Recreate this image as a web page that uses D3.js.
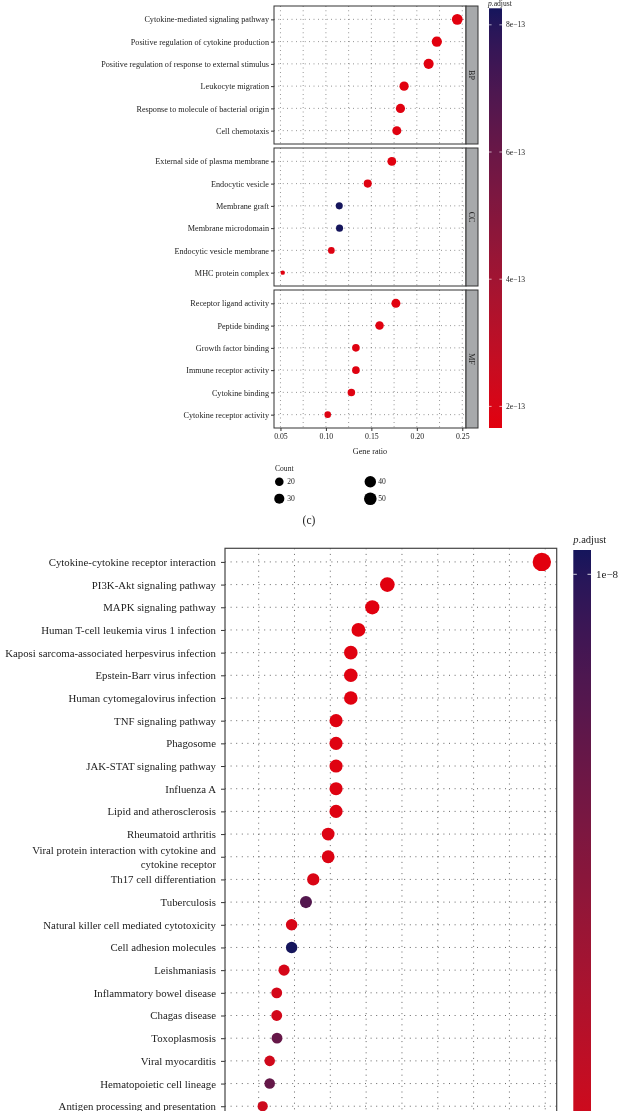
<!DOCTYPE html>
<html>
<head>
<meta charset="utf-8">
<script src="https://cdn.jsdelivr.net/npm/d3@7"></script>
<style>
  body { margin: 0; overflow: hidden; background: #fff; }
  svg { will-change: transform; }
  text { font-family: "Liberation Serif", "DejaVu Serif", serif; fill: #222; }
</style>
</head>
<body>
<div id="container"></div>
<script>
// ---------- data : (c) GO enrichment ----------
const bpTerms = ["Cytokine-mediated signaling pathway", "Positive regulation of cytokine production",
  "Positive regulation of response to external stimulus", "Leukocyte migration",
  "Response to molecule of bacterial origin", "Cell chemotaxis"];
const bpRatio = [0.2445, 0.222, 0.213, 0.186, 0.182, 0.178];
const bpCount = [55, 50, 48, 42, 41, 40];
const bpPadj = [1.66e-13, 1.67e-13, 1.68e-13, 1.7e-13, 1.72e-13, 1.74e-13];

const ccTerms = ["External side of plasma membrane", "Endocytic vesicle", "Membrane graft",
  "Membrane microdomain", "Endocytic vesicle membrane", "MHC protein complex"];
const ccRatio = [0.1725, 0.146, 0.1147, 0.115, 0.106, 0.0525];
const ccCount = [39, 33, 26, 26, 24, 12];
const ccPadj = [1.7e-13, 1.75e-13, 8.26e-13, 8.26e-13, 1.8e-13, 1.75e-13];

const mfTerms = ["Receptor ligand activity", "Peptide binding", "Growth factor binding",
  "Immune receptor activity", "Cytokine binding", "Cytokine receptor activity"];
const mfRatio = [0.177, 0.159, 0.133, 0.133, 0.128, 0.102];
const mfCount = [40, 36, 30, 30, 29, 23];
const mfPadj = [1.7e-13, 1.72e-13, 1.75e-13, 1.75e-13, 1.78e-13, 1.8e-13];

const goLegendCounts = [20, 30, 40, 50];

// ---------- data : (d) KEGG enrichment ----------
const keggTerms = ["Cytokine-cytokine receptor interaction", "PI3K-Akt signaling pathway",
  "MAPK signaling pathway", "Human T-cell leukemia virus 1 infection",
  "Kaposi sarcoma-associated herpesvirus infection", "Epstein-Barr virus infection",
  "Human cytomegalovirus infection", "TNF signaling pathway", "Phagosome",
  "JAK-STAT signaling pathway", "Influenza A", "Lipid and atherosclerosis",
  "Rheumatoid arthritis", "Viral protein interaction with cytokine and|cytokine receptor",
  "Th17 cell differentiation", "Tuberculosis", "Natural killer cell mediated cytotoxicity",
  "Cell adhesion molecules", "Leishmaniasis", "Inflammatory bowel disease", "Chagas disease",
  "Toxoplasmosis", "Viral myocarditis", "Hematopoietic cell lineage",
  "Antigen processing and presentation"];
const keggRatio = [0.2476, 0.1398, 0.1293, 0.1196, 0.1143, 0.1143, 0.1143, 0.104, 0.104,
  0.104, 0.104, 0.104, 0.0985, 0.0985, 0.0881, 0.083, 0.073, 0.073, 0.0677, 0.0626,
  0.0626, 0.0628, 0.0577, 0.0577, 0.0528];
const keggCount = [47, 27, 25, 23, 22, 22, 22, 20, 20, 20, 20, 20, 19, 19, 17, 16, 14, 14,
  13, 12, 12, 12, 11, 11, 10];
const keggPadj = [2e-11, 3e-11, 5e-11, 8e-11, 1e-10, 1.2e-10, 1.3e-10, 1.5e-10, 1.6e-10,
  1.8e-10, 2e-10, 2.2e-10, 3e-10, 3.5e-10, 5e-10, 8.0e-9, 6e-10, 1.04e-8, 7e-10, 8e-10,
  9e-10, 7.0e-9, 1e-9, 7.1e-9, 1.2e-9];
const keggXDomain = [0.0265, 0.258];   // axis below the picture edge
const keggBarTicks = [1e-8];

// ---------- setup ----------
const width = 622;
const height = 1111;
const lowColor = "#e2000e";
const highColor = "#15155c";
const sci = d => d3.format(".0e")(d).replace("-", "\u2212");

const svg = d3.select("#container")
  .append("svg")
  .attr("width", width)
  .attr("height", height);

const defs = svg.append("defs");

function gradient(id, color) {
  const g = defs.append("linearGradient").attr("id", id)
    .attr("x1", 0).attr("y1", 1).attr("x2", 0).attr("y2", 0);
  d3.range(0, 1.0001, 0.05).forEach(t => {
    const d = color.domain();
    g.append("stop").attr("offset", t).attr("stop-color", color(d[0] + t * (d[1] - d[0])));
  });
}

// ====================== (c) GO dot plot ======================
const goLeft = 274, goRight = 466, goTop = 6, goPanelH = 138, goGap = 4;
const stripW = 12;
const goPanels = [
  { name: "BP", terms: bpTerms, ratio: bpRatio, count: bpCount, padj: bpPadj },
  { name: "CC", terms: ccTerms, ratio: ccRatio, count: ccCount, padj: ccPadj },
  { name: "MF", terms: mfTerms, ratio: mfRatio, count: mfCount, padj: mfPadj }
];
const allRatio = bpRatio.concat(ccRatio, mfRatio);
const allCount = bpCount.concat(ccCount, mfCount);
const allPadj = bpPadj.concat(ccPadj, mfPadj);

const [rMin, rMax] = d3.extent(allRatio);
const rPad = (rMax - rMin) * 0.05;
const xGo = d3.scaleLinear().domain([rMin - rPad, rMax + rPad]).range([goLeft, goRight]);
const sizeGo = d3.scaleSqrt().domain(d3.extent(allCount)).range([2.2, 5.4]);
const colorGo = d3.scaleSequential(d3.interpolateLab(lowColor, highColor)).domain(d3.extent(allPadj));

const goMajor = xGo.ticks(5);
const goStep = goMajor[1] - goMajor[0];
const goGrid = goMajor.concat(goMajor.map(d => d + goStep / 2))
  .filter(d => d > xGo.domain()[0] && d < xGo.domain()[1]);

goPanels.forEach((p, i) => {
  const top = goTop + i * (goPanelH + goGap);
  const bottom = top + goPanelH;
  const step = goPanelH / (p.terms.length - 1 + 1.2);
  const y = d3.scalePoint().domain(p.terms).range([top + 0.6 * step, bottom - 0.6 * step]);
  const g = svg.append("g");

  // grid
  g.selectAll(".gv").data(goGrid).enter().append("line")
    .attr("x1", d => xGo(d)).attr("x2", d => xGo(d))
    .attr("y1", top).attr("y2", bottom)
    .attr("stroke", "#444").attr("stroke-width", 0.7).attr("stroke-dasharray", "0.8,3.6");
  g.selectAll(".gh").data(p.terms).enter().append("line")
    .attr("x1", goLeft).attr("x2", goRight)
    .attr("y1", d => y(d)).attr("y2", d => y(d))
    .attr("stroke", "#444").attr("stroke-width", 0.7).attr("stroke-dasharray", "0.8,3.6");

  // points
  g.selectAll("circle").data(p.terms).enter().append("circle")
    .attr("cx", (d, j) => xGo(p.ratio[j]))
    .attr("cy", d => y(d))
    .attr("r", (d, j) => sizeGo(p.count[j]))
    .attr("fill", (d, j) => colorGo(p.padj[j]));

  // y axis
  g.append("g")
    .attr("transform", `translate(${goLeft},0)`)
    .call(d3.axisLeft(y).tickSize(3).tickPadding(2))
    .call(a => a.select(".domain").remove())
    .call(a => a.selectAll("line").attr("stroke", "#333"))
    .call(a => a.selectAll("text").attr("font-size", 8.2).attr("font-family", null).attr("fill", "#222"));

  // panel border + strip
  g.append("rect").attr("x", goLeft).attr("y", top).attr("width", goRight - goLeft)
    .attr("height", goPanelH).attr("fill", "none").attr("stroke", "#333").attr("stroke-width", 1);
  g.append("rect").attr("x", goRight).attr("y", top).attr("width", stripW)
    .attr("height", goPanelH).attr("fill", "#a7a9ab").attr("stroke", "#333").attr("stroke-width", 1);
  g.append("text")
    .attr("transform", `translate(${goRight + stripW / 2 - 2.8},${top + goPanelH / 2}) rotate(90)`)
    .attr("text-anchor", "middle").attr("font-size", 8).attr("fill", "#1a1a1a")
    .text(p.name);
});

const goBottom = goTop + 3 * goPanelH + 2 * goGap;

// x axis
svg.append("g")
  .attr("transform", `translate(0,${goBottom})`)
  .call(d3.axisBottom(xGo).ticks(5).tickSize(3).tickPadding(2).tickFormat(d3.format(".2f")))
  .call(a => a.select(".domain").remove())
  .call(a => a.selectAll("line").attr("stroke", "#333"))
  .call(a => a.selectAll("text").attr("font-size", 7.8).attr("font-family", null).attr("fill", "#222"));

svg.append("text").attr("x", (goLeft + goRight) / 2).attr("y", goBottom + 26)
  .attr("text-anchor", "middle").attr("font-size", 8.2).text("Gene ratio");

// colour bar
gradient("gradGo", colorGo);
const goBarX = 489, goBarW = 13, goBarTop = 8.3;
const yBarGo = d3.scaleLinear().domain(colorGo.domain()).range([goBottom, goBarTop]);
svg.append("rect").attr("x", goBarX).attr("y", goBarTop).attr("width", goBarW)
  .attr("height", goBottom - goBarTop).attr("fill", "url(#gradGo)");
const goBarTicks = yBarGo.ticks(4);
svg.selectAll(".gotick").data(goBarTicks).enter().append("path")
  .attr("d", d => `M${goBarX},${yBarGo(d)}h2.6M${goBarX + goBarW - 2.6},${yBarGo(d)}h2.6`)
  .attr("stroke", "#fff").attr("stroke-width", 0.8).attr("opacity", 0.8);
svg.selectAll(".golab").data(goBarTicks).enter().append("text")
  .attr("x", goBarX + goBarW + 4).attr("y", d => yBarGo(d) + 2.6)
  .attr("font-size", 7.6).text(sci);
const goTitle = svg.append("text").attr("x", goBarX - 1).attr("y", 6).attr("font-size", 7.6);
goTitle.append("tspan").attr("font-style", "italic").text("p");
goTitle.append("tspan").text(".adjust");

// size legend
const legendSize = d3.scaleSqrt().domain(d3.extent(goLegendCounts)).range([4.3, 6.3]);
svg.append("text").attr("x", 275).attr("y", 470.5).attr("font-size", 7.6).text("Count");
const legItems = svg.selectAll(".leg").data(goLegendCounts).enter().append("g")
  .attr("transform", (d, i) => `translate(${i < 2 ? 279.3 : 370.3},${i % 2 === 0 ? 481.7 : 498.7})`);
legItems.append("circle").attr("r", d => legendSize(d)).attr("fill", "#000");
legItems.append("text").attr("x", 8).attr("y", 2.6).attr("font-size", 7.6).text(d => d);

svg.append("text").attr("x", 309).attr("y", 524).attr("text-anchor", "middle")
  .attr("font-size", 11.5).text("(c)");

// ====================== (d) KEGG dot plot ======================
const kLeft = 225, kRight = 556.7, kTop = 548.3, kRowStep = 22.68;
const kBottom = kTop + (29 + 1.2) * kRowStep;   // panel runs past the picture edge

const xK = d3.scaleLinear().domain(keggXDomain).range([kLeft, kRight]);
const yK = d3.scalePoint().domain(keggTerms)
  .range([kTop + 0.6 * kRowStep, kTop + 0.6 * kRowStep + (keggTerms.length - 1) * kRowStep]);
const sizeK = d3.scaleSqrt().domain(d3.extent(keggCount)).range([5.1, 9.2]);
const colorK = d3.scaleSequential(d3.interpolateLab(lowColor, highColor)).domain([0, 1.04e-8]);

const kMajor = xK.ticks(5);
const kStep = kMajor[1] - kMajor[0];
const kGrid = kMajor.concat(kMajor.map(d => d + kStep / 2))
  .filter(d => d > xK.domain()[0] && d < xK.domain()[1]);

const gk = svg.append("g");
gk.selectAll(".kv").data(kGrid).enter().append("line")
  .attr("x1", d => xK(d)).attr("x2", d => xK(d))
  .attr("y1", kTop).attr("y2", kBottom)
  .attr("stroke", "#555").attr("stroke-width", 0.9).attr("stroke-dasharray", "1,4.6");
gk.selectAll(".kh").data(keggTerms).enter().append("line")
  .attr("x1", kLeft).attr("x2", kRight)
  .attr("y1", d => yK(d)).attr("y2", d => yK(d))
  .attr("stroke", "#555").attr("stroke-width", 0.9).attr("stroke-dasharray", "1,4.6");

gk.selectAll("circle").data(keggTerms).enter().append("circle")
  .attr("cx", (d, i) => xK(keggRatio[i]))
  .attr("cy", d => yK(d))
  .attr("r", (d, i) => sizeK(keggCount[i]))
  .attr("fill", (d, i) => colorK(keggPadj[i]));

// y axis with wrapped labels
const kAxis = gk.append("g")
  .attr("transform", `translate(${kLeft},0)`)
  .call(d3.axisLeft(yK).tickSize(4).tickPadding(5))
  .call(a => a.select(".domain").remove())
  .call(a => a.selectAll("line").attr("stroke", "#333"));
kAxis.selectAll("text")
  .attr("font-size", 10.8).attr("font-family", null).attr("fill", "#222")
  .each(function (d) {
    const parts = d.split("|");
    if (parts.length > 1) {
      const t = d3.select(this).text(null).attr("dy", null);
      parts.forEach((s, j) => {
        t.append("tspan").attr("x", -9).attr("y", (j - 0.5) * 14.3 + 4).text(s);
      });
    }
  });

gk.append("rect").attr("x", kLeft).attr("y", kTop).attr("width", kRight - kLeft)
  .attr("height", kBottom - kTop).attr("fill", "none").attr("stroke", "#444").attr("stroke-width", 1.2);

// colour bar
gradient("gradK", colorK);
const kBarX = 573.3, kBarW = 17.7, kBarTop = 550;
const kBarLen = 24.3 * colorK.domain()[1] / (colorK.domain()[1] - keggBarTicks[0]);
const yBarK = d3.scaleLinear().domain(colorK.domain()).range([kBarTop + kBarLen, kBarTop]);
svg.append("rect").attr("x", kBarX).attr("y", kBarTop).attr("width", kBarW)
  .attr("height", kBarLen).attr("fill", "url(#gradK)");
svg.selectAll(".ktick").data(keggBarTicks).enter().append("path")
  .attr("d", d => `M${kBarX},${yBarK(d)}h3.5M${kBarX + kBarW - 3.5},${yBarK(d)}h3.5`)
  .attr("stroke", "#fff").attr("stroke-width", 1).attr("opacity", 0.8);
svg.selectAll(".klab").data(keggBarTicks).enter().append("text")
  .attr("x", kBarX + kBarW + 5).attr("y", d => yBarK(d) + 4)
  .attr("font-size", 11).text(sci);
const kTitle = svg.append("text").attr("x", kBarX).attr("y", 543).attr("font-size", 10.5);
kTitle.append("tspan").attr("font-style", "italic").text("p");
kTitle.append("tspan").text(".adjust");
</script>
</body>
</html>
